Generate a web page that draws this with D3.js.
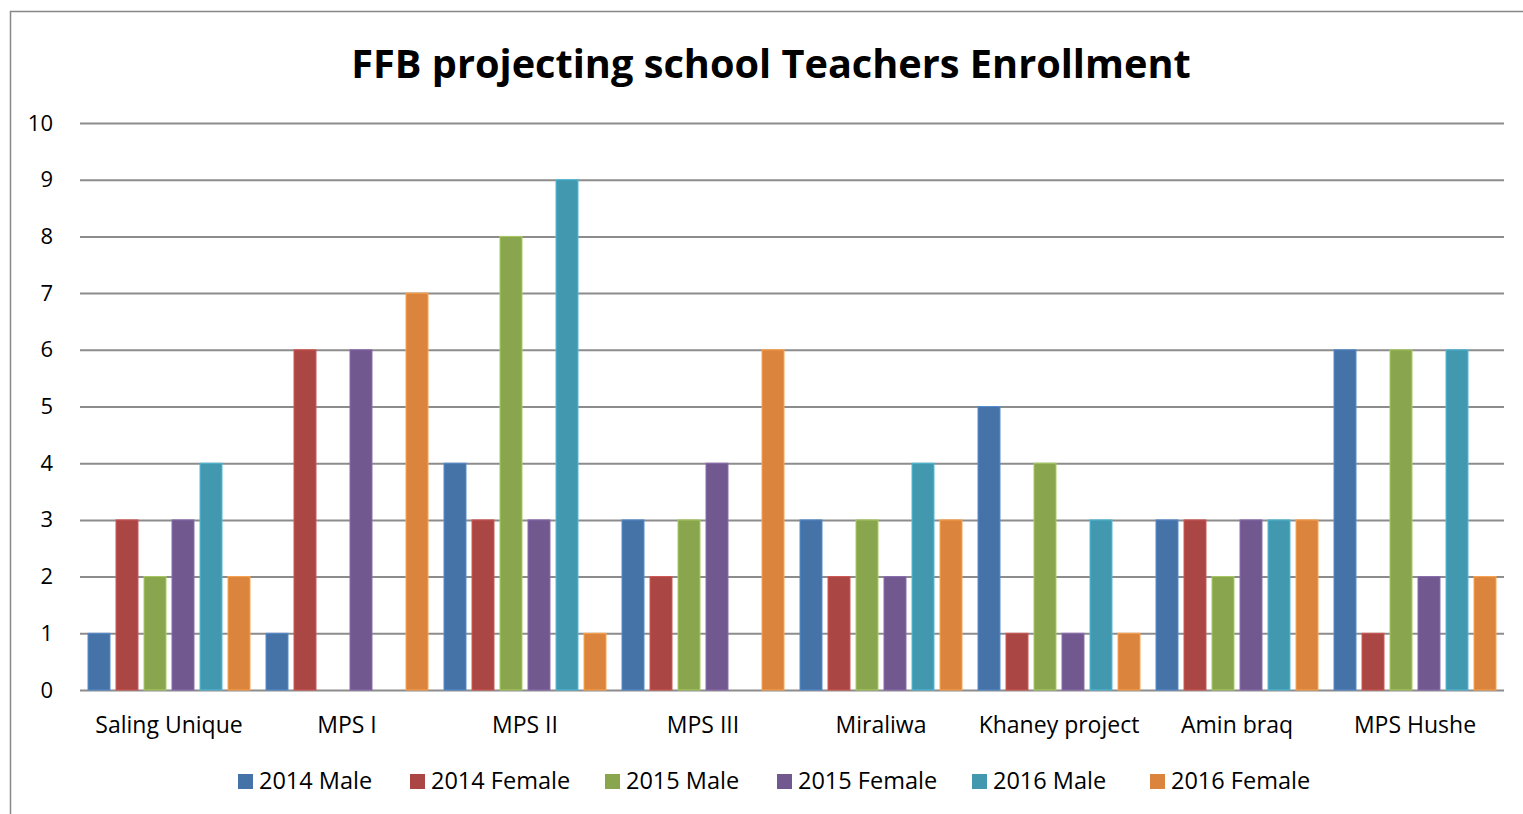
<!DOCTYPE html>
<html>
<head>
<meta charset="utf-8">
<script src="https://cdn.jsdelivr.net/npm/d3@7"></script>
<style>
  body { margin: 0; background: #fff; }
  text { font-family: "Open Sans", "Noto Sans", sans-serif; fill: #000; }
  .tick text { font-size: 23px; }
</style>
</head>
<body>
<svg id="chart" width="1523" height="814"></svg>
<script>
// data
const schools = ["Saling Unique", "MPS I", "MPS II", "MPS III", "Miraliwa", "Khaney project", "Amin braq", "MPS Hushe"]
const seriesNames = ["2014 Male", "2014 Female", "2015 Male", "2015 Female", "2016 Male", "2016 Female"]
const male2014 = [1, 1, 4, 3, 3, 5, 3, 6]
const female2014 = [3, 6, 3, 2, 2, 1, 3, 1]
const male2015 = [2, 0, 8, 3, 3, 4, 2, 6]
const female2015 = [3, 6, 3, 4, 2, 1, 3, 2]
const male2016 = [4, 0, 9, 0, 4, 3, 3, 6]
const female2016 = [2, 7, 1, 6, 3, 1, 3, 2]
const yTicks = [0, 1, 2, 3, 4, 5, 6, 7, 8, 9, 10]
const colors = ["#4572A7", "#AA4643", "#89A54E", "#71588F", "#4198AF", "#DB843D"]

const allSeries = [male2014, female2014, male2015, female2015, male2016, female2016]

let svg = d3.select("#chart")

// chart border (only top and left visible in the frame)
svg.append("rect")
    .attr("x", 10.5).attr("y", 11.5)
    .attr("width", 1600).attr("height", 900)
    .attr("fill", "none").attr("stroke", "#888").attr("stroke-width", 1.5)

// title
svg.append("text")
    .attr("x", 771).attr("y", 78)
    .attr("text-anchor", "middle")
    .style("font-size", "39.7px").style("font-weight", "bold")
    .text("FFB projecting school Teachers Enrollment")

let plot = { left: 80, right: 1504, top: 123, bottom: 690 }

let x0 = d3.scaleBand()
    .domain(schools)
    .range([plot.left, plot.right])

let x1 = d3.scaleBand()
    .domain(seriesNames)
    .range([0, x0.bandwidth()])
    .paddingInner(0.2143)
    .paddingOuter(0.2857)

let y = d3.scaleLinear()
    .domain([0, 10])
    .range([plot.bottom, plot.top])

let color = d3.scaleOrdinal().domain(seriesNames).range(colors)

// gridlines
let grid = svg.append("g")
    .attr("transform", `translate(${plot.left},0)`)
    .call(d3.axisLeft(y).tickValues(yTicks).tickSize(-(plot.right - plot.left)).tickFormat(""))
grid.select(".domain").remove()
grid.selectAll(".tick line").attr("stroke", "#8c8c8c").attr("stroke-width", 2)

// y axis labels
let yAxis = svg.append("g")
    .attr("transform", `translate(${plot.left},0)`)
    .call(d3.axisLeft(y).tickValues(yTicks).tickSize(0).tickPadding(27))
yAxis.select(".domain").remove()
yAxis.selectAll(".tick text").attr("text-anchor", "end").style("font-size", "22px")

// bars
let rows = schools.map((s, i) => ({ school: s, values: allSeries.map((arr, j) => ({ key: seriesNames[j], value: arr[i] })) }))

let groups = svg.append("g")
    .selectAll("g")
    .data(rows)
    .join("g")
    .attr("transform", d => `translate(${x0(d.school)},0)`)

groups.selectAll("rect")
    .data(d => d.values)
    .join("rect")
    .attr("x", d => x1(d.key))
    .attr("y", d => y(d.value))
    .attr("width", x1.bandwidth())
    .attr("height", d => y(0) - y(d.value))
    .attr("fill", d => color(d.key))
    .attr("stroke", d => d3.color(color(d.key)).brighter(0.6))
    .attr("stroke-width", 1)

// x axis labels
let xAxis = svg.append("g")
    .attr("transform", `translate(0,${plot.bottom})`)
    .call(d3.axisBottom(x0).tickSize(0).tickPadding(27))
xAxis.select(".domain").remove()

// legend
let legendX = [238, 410, 605, 777, 972, 1150]
let legend = svg.append("g")
    .selectAll("g")
    .data(seriesNames)
    .join("g")
    .attr("transform", (d, i) => `translate(${legendX[i]},781)`)

legend.append("rect")
    .attr("x", 0).attr("y", -7)
    .attr("width", 15).attr("height", 15)
    .attr("fill", d => color(d))

legend.append("text")
    .attr("x", 21).attr("y", 0)
    .attr("dy", "0.35em")
    .style("font-size", "23.5px")
    .text(d => d)
</script>
</body>
</html>
